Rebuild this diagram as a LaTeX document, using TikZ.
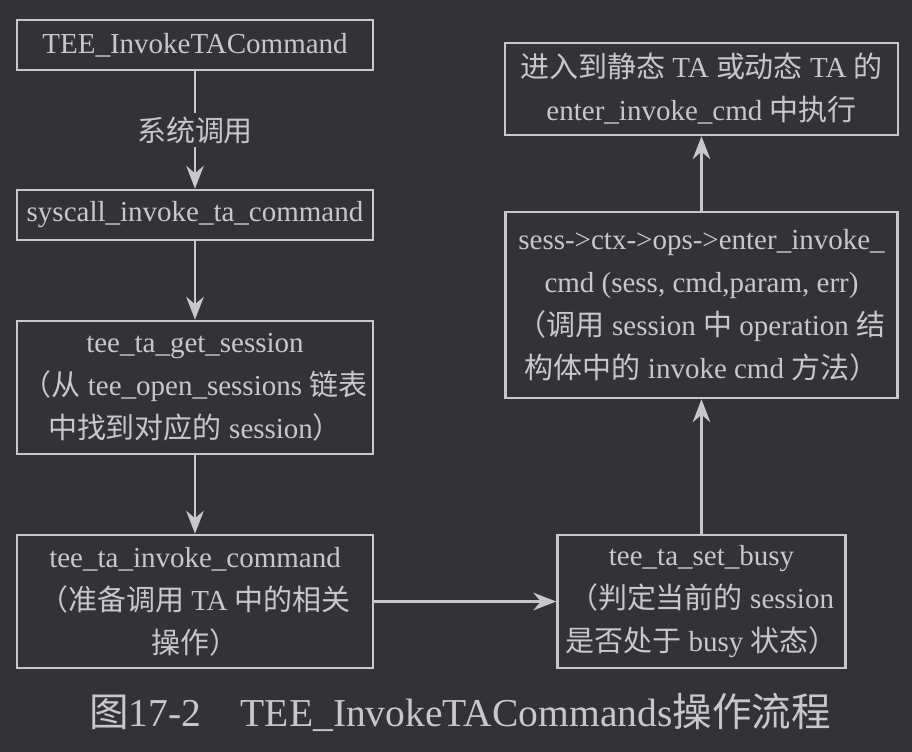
\documentclass[tikz,border=0pt]{standalone}
\usepackage{fontspec}
\setmainfont{Liberation Serif}
\newfontfamily\cjk{Noto Sans CJK SC}
\usetikzlibrary{arrows.meta,positioning}
\definecolor{bgdark}{HTML}{333336}
\definecolor{inkgray}{HTML}{C8C8CC}
\newcommand{\zh}[1]{{\cjk #1}}

\begin{document}
\begin{tikzpicture}[
  stepbox/.style={draw=inkgray, line width=1.5pt, text=inkgray, align=center, inner sep=0pt, font=\fontsize{16.5}{24.5}\selectfont},
  leftbox/.style={stepbox, minimum width=7.12cm},
  callnote/.style={fill=bgdark, text=inkgray, inner sep=2pt, font=\fontsize{16.5}{24.5}\selectfont},
  flow/.style={draw=inkgray, line width=1.5pt, ->},
  >={Stealth[length=13pt,width=10pt]}
]
  \fill[bgdark] (0,0) rectangle (18.24,-15.04);
  \useasboundingbox (0,0) rectangle (18.24,-15.04);

  % left column
  \node[leftbox, minimum height=1cm] (tacmd) at (3.9,-0.9) {TEE\_InvokeTACommand};
  \node[leftbox, minimum height=1cm] (syscall) at (3.9,-4.3) {syscall\_invoke\_ta\_command};
  \node[leftbox, minimum height=2.66cm] (getsess) at (3.9,-7.75)
    {tee\_ta\_get\_session\\\zh{（从} tee\_open\_sessions \zh{链表}\\\zh{中找到对应的} session\zh{）}};
  \node[leftbox, minimum height=2.66cm] (invcmd) at (3.9,-12.03)
    {tee\_ta\_invoke\_command\\\zh{（准备调用} TA \zh{中的相关}\\\zh{操作）}};

  % right column
  \node[stepbox, minimum width=5.76cm, minimum height=2.66cm] (setbusy) at (14.03,-12.03)
    {tee\_ta\_set\_busy\\\zh{（判定当前的} session\\\zh{是否处于} busy \zh{状态）}};
  \node[stepbox, minimum width=7.84cm, minimum height=3.72cm] (opscall) at (14.03,-6.1)
    {sess->ctx->ops->enter\_invoke\_\\cmd (sess, cmd,param, err)\\\zh{（调用} session \zh{中} operation \zh{结}\\\zh{构体中的} invoke cmd \zh{方法）}};
  \node[stepbox, minimum width=7.86cm, minimum height=1.84cm] (enter) at (14.03,-1.78)
    {\zh{进入到静态} TA \zh{或动态} TA \zh{的}\\enter\_invoke\_cmd \zh{中执行}};

  \draw[flow] (tacmd) -- node[callnote] {\zh{系统调用}} (syscall);
  \draw[flow] (syscall) -- (getsess);
  \draw[flow] (getsess) -- (invcmd);
  \draw[flow] (invcmd) -- (setbusy);
  \draw[flow] (setbusy) -- (opscall);
  \draw[flow] (opscall) -- (enter);

  \node[text=inkgray, font=\fontsize{22.5}{26}\selectfont] (caption) at (9.2,-14.24)
    {\zh{图}17-2\hspace{1em}TEE\_InvokeTACommands\zh{操作流程}};
\end{tikzpicture}
\end{document}
